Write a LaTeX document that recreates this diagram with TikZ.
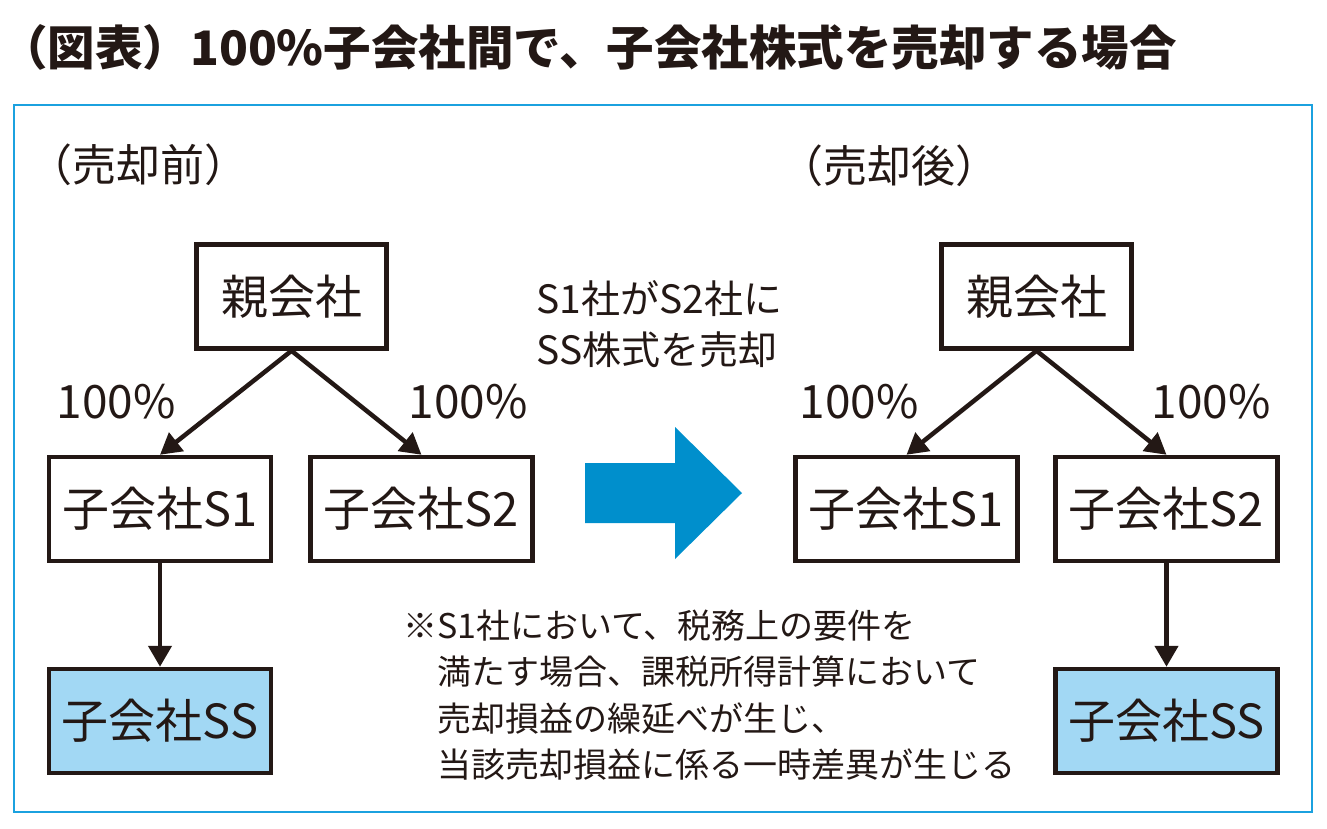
\documentclass[tikz,border=0pt]{standalone}
\usepackage{fontspec}
\setmainfont{Noto Sans CJK JP}
\usetikzlibrary{arrows.meta}
\definecolor{inkblack}{HTML}{231815}
\definecolor{framecol}{HTML}{1BA1DF}
\definecolor{arrowcol}{HTML}{008FCC}
\definecolor{ssfill}{HTML}{A2D8F4}
\begin{document}
\begin{tikzpicture}[x=1pt,y=-1pt,inkblack]
    \tikzset{kaisha/.style={draw=inkblack,line width=4.5pt,minimum width=222pt,minimum height=104pt,inner sep=0pt,font=\fontsize{47}{52}\selectfont},
        oya/.style={kaisha,minimum width=190pt},
        mago/.style={kaisha,fill=ssfill},
        hiritsu/.style={font=\fontsize{46}{52}\selectfont},
        yajirushi/.style={line width=4.5pt,-{Triangle[length=21pt,width=23pt]}}};
    \useasboundingbox (0,0) rectangle (1327,828);
    \node[anchor=west,inner sep=0pt,font=\bfseries\fontsize{47.5}{52}\selectfont] (title) at (0,47) {（図表）100\%子会社間で、子会社株式を売却する場合};
    \draw[framecol,line width=2.5pt] (14,105) rectangle (1312,812);
    \node[font=\fontsize{44}{52}\selectfont] (mae) at (138,165) {（売却前）};
    \node[font=\fontsize{44}{52}\selectfont] (ato) at (889,166) {（売却後）};
    % before
    \node[oya] (oyaL) at (291.5,296.5) {親会社};
    \node[kaisha] (s1L) at (160,509) {子会社S1};
    \node[kaisha] (s2L) at (421.5,509) {子会社S2};
    \node[mago] (ssL) at (160,721) {子会社SS};
    \draw[yajirushi] (oyaL.south) -- (s1L.north);
    \draw[yajirushi] (oyaL.south) -- (s2L.north);
    \draw[yajirushi] (s1L.south) -- (ssL.north);
    \node[hiritsu] (hL1) at (116,402) {100\%};
    \node[hiritsu] (hL2) at (468,402) {100\%};
    % after
    \node[oya] (oyaR) at (1036.5,296.5) {親会社};
    \node[kaisha] (s1R) at (906.5,509) {子会社S1};
    \node[kaisha] (s2R) at (1166.5,509) {子会社S2};
    \node[mago] (ssR) at (1166.5,721) {子会社SS};
    \draw[yajirushi] (oyaR.south) -- (s1R.north);
    \draw[yajirushi] (oyaR.south) -- (s2R.north);
    \draw[yajirushi] (s2R.south) -- (ssR.north);
    \node[hiritsu] (hR1) at (859,402) {100\%};
    \node[hiritsu] (hR2) at (1211,402) {100\%};
    % middle
    \node[anchor=west,align=left,font=\fontsize{39}{51}\selectfont] (setsumei) at (533,324.5) {S1社がS2社に\\SS株式を売却};
    \fill[arrowcol] (585,463) -- (675,463) -- (675,427) -- (742,493) -- (675,559) -- (675,523) -- (585,523) -- cycle;
    \node[anchor=west,align=left,font=\fontsize{34}{46.5}\selectfont] (chuki) at (400,695) {※S1社において、税務上の要件を\\\hspace*{1em}満たす場合、課税所得計算において\\\hspace*{1em}売却損益の繰延べが生じ、\\\hspace*{1em}当該売却損益に係る一時差異が生じる};
\end{tikzpicture}
\end{document}
